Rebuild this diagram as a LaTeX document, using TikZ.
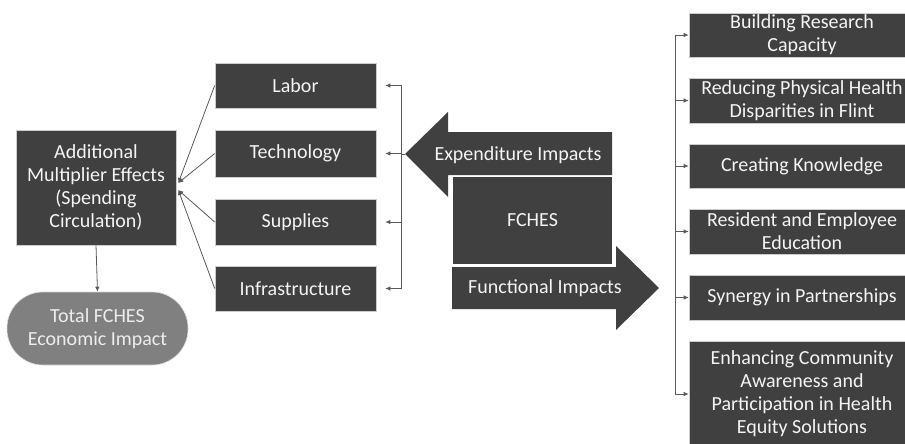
\documentclass[tikz,border=0pt]{standalone}
\usepackage{fontspec}
\setmainfont{Carlito}
\usetikzlibrary{arrows.meta}
\definecolor{boxg}{HTML}{404040}
\definecolor{ovalg}{HTML}{808080}
\definecolor{lineg}{HTML}{5A5A5A}
\definecolor{txtw}{HTML}{F4F4F4}
\begin{document}
\begin{tikzpicture}[x=1pt,y=-1pt,
  box/.style={fill=boxg,draw=black!20,line width=0.6pt,text=txtw,align=center,inner sep=0pt,
    font=\fontsize{20}{23}\selectfont},
  lbl/.style={text=txtw,font=\fontsize{20}{23}\selectfont,inner sep=0pt},
  arr/.style={draw=lineg,line width=0.8pt,-{Latex[length=5pt,width=4.5pt]}},
  ln/.style={draw=lineg,line width=0.8pt}]
\useasboundingbox (0,0) rectangle (905,444);
\fill[white] (0,0) rectangle (905,444);
\clip (0,0) rectangle (905,444);

% left
\node[box,minimum width=160pt,minimum height=115pt] (mult) at (96,187.5)
  {Additional\\Multiplier Effects\\(Spending\\Circulation)};
\node[box,fill=ovalg,draw=black!15,rounded corners=36pt,minimum width=181pt,minimum height=73pt,text=white!93!black] (total) at (97.5,328.5)
  {Total FCHES\\Economic Impact};
\draw[arr] (mult.south) -- (total.north);

% middle column
\node[box,minimum width=161pt,minimum height=45pt] (labor) at (295.5,85.5) {Labor};
\node[box,minimum width=161pt,minimum height=47pt] (tech) at (295.5,153.5) {Technology};
\node[box,minimum width=161pt,minimum height=46pt] (supp) at (295.5,222) {Supplies};
\node[box,minimum width=161pt,minimum height=45pt] (infra) at (295.5,288.5) {Infrastructure};

\draw[arr] (labor.west) -- ([yshift=4.5pt,xshift=2pt]mult.east);
\draw[arr] (tech.west) -- ([yshift=4.5pt,xshift=2pt]mult.east);
\draw[arr] (supp.west) -- ([yshift=-2.5pt,xshift=2pt]mult.east);
\draw[arr] (infra.west) -- ([yshift=-2.5pt,xshift=2pt]mult.east);

% central shapes
\fill[boxg] (405,154) -- (448,112) -- (448,132) -- (612,132) -- (612,175) -- (448,175) -- (448,197) -- cycle;
\node[lbl] (exp) at (518,155) {Expenditure Impacts};
\coordinate (exptip) at (405,154);
\node[box,draw=white,line width=1.2pt,minimum width=161pt,minimum height=88pt] (fches) at (532.5,220.5) {FCHES};
\fill[boxg] (452,267) -- (616,267) -- (616,246) -- (659,288) -- (616,330) -- (616,309) -- (452,309) -- cycle;
\node[lbl] (func) at (545,288) {Functional Impacts};

% left bracket
\coordinate (bus) at (401,154);
\draw[ln] (labor.east -| bus) -- (infra.east -| bus);
\draw[ln] (exptip) -- (bus);
\foreach \n in {labor,tech,supp,infra}
  \draw[arr,shorten >=9pt] (\n.east -| bus) -- (\n.east);

% right column
\node[box,minimum width=226pt,minimum height=44pt] (r1) at (802,35) {Building Research\\Capacity};
\node[box,minimum width=226pt,minimum height=45pt] (r2) at (802,100.5) {Reducing Physical Health\\Disparities in Flint};
\node[box,minimum width=226pt,minimum height=44pt] (r3) at (802,166) {Creating Knowledge};
\node[box,minimum width=226pt,minimum height=45pt] (r4) at (802,231.5) {Resident and Employee\\Education};
\node[box,minimum width=226pt,minimum height=45pt] (r5) at (802,297.5) {Synergy in Partnerships};
\node[box,minimum width=226pt,minimum height=106pt] (r6) at (802,394) {Enhancing Community\\Awareness and\\Participation in Health\\Equity Solutions};

\coordinate (rbus) at (675,200);
\draw[ln] (r1.west -| rbus) -- (r6.west -| rbus);
\foreach \n in {r1,r2,r3,r4,r5,r6}
  \draw[arr] (\n.west -| rbus) -- (\n.west);
\end{tikzpicture}
\end{document}
